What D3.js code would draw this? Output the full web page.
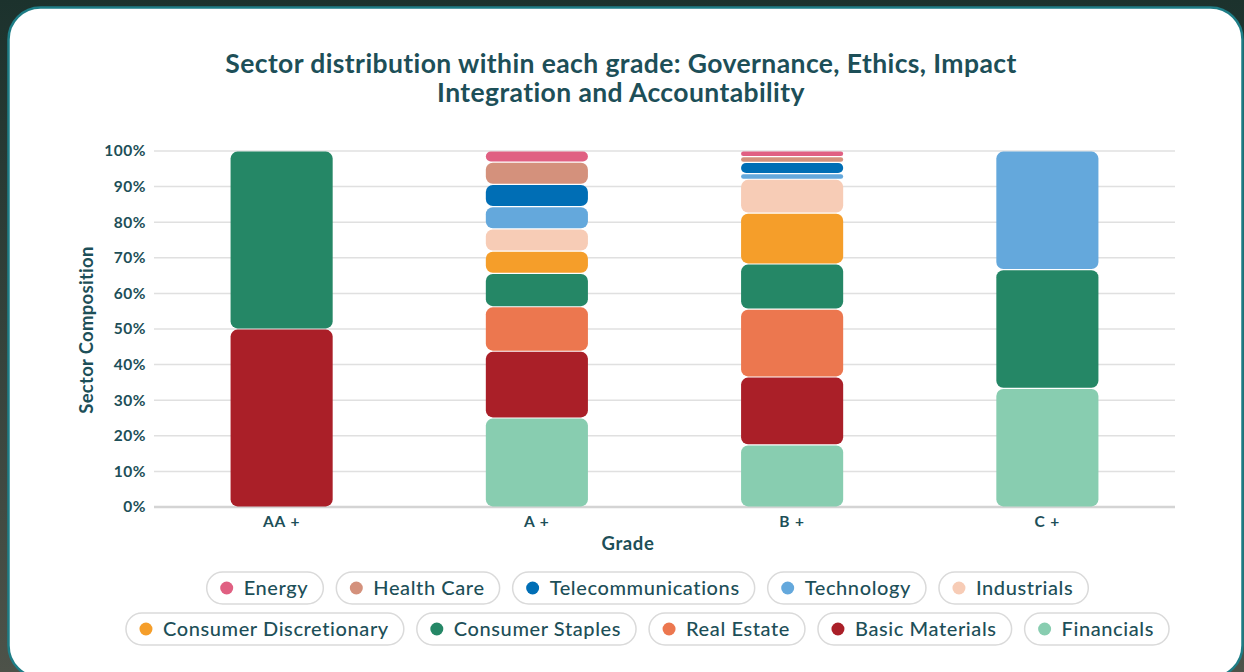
<!DOCTYPE html>
<html lang="en">
<head>
    <meta charset="UTF-8">
    <title>Sector distribution</title>
    <script src="https://cdn.jsdelivr.net/npm/d3@7"></script>
    <style>
        html, body { margin: 0; padding: 0; }
        body { width: 1244px; height: 672px; overflow: hidden; }
        svg { display: block; font-family: Lato, "Noto Sans", sans-serif; }
        .tick-label { fill: #1d4f58; font-weight: 700; font-family: Lato, "Noto Sans", sans-serif; }
    </style>
</head>
<body>
    <svg id="chart" width="1244" height="672"></svg>

    <script>
        // grades on the x axis
        const grades = ["AA +", "A +", "B +", "C +"];
        // legend order (top of stack first)
        const sectors = ["Energy", "Health Care", "Telecommunications", "Technology", "Industrials",
            "Consumer Discretionary", "Consumer Staples", "Real Estate", "Basic Materials", "Financials"];
        const sectorColors = ["#e06082", "#d4917c", "#006eb5", "#64a8dc", "#f7ccb6",
            "#f59e2a", "#258766", "#ec774f", "#aa1f28", "#88cdb0"];

        // share (%) of each sector within each grade
        const energy         = [0, 3.125, 1.59, 0];
        const healthCare     = [0, 6.25, 1.59, 0];
        const telecom        = [0, 6.25, 3.17, 0];
        const technology     = [0, 6.25, 1.59, 33.33];
        const industrials    = [0, 6.25, 9.52, 0];
        const consumerDisc   = [0, 6.25, 14.29, 0];
        const consumerStaple = [50, 9.375, 12.70, 33.33];
        const realEstate     = [0, 12.5, 19.05, 0];
        const basicMaterials = [50, 18.75, 19.05, 0];
        const financials     = [0, 25, 17.46, 33.34];

        const yTicks = [0, 10, 20, 30, 40, 50, 60, 70, 80, 90, 100];

        const seriesValues = [energy, healthCare, telecom, technology, industrials,
            consumerDisc, consumerStaple, realEstate, basicMaterials, financials];

        // table for d3.stack: one row per grade
        const rows = grades.map((g, i) => {
            const row = { grade: g };
            sectors.forEach((s, j) => { row[s] = seriesValues[j][i]; });
            return row;
        });

        const textColor = "#1d4f58";
        const svg = d3.select("#chart");

        // background + card
        const defs = svg.append("defs");
        const grad = defs.append("linearGradient").attr("id", "bg").attr("x1", 0).attr("y1", 0).attr("x2", 0).attr("y2", 1);
        grad.append("stop").attr("offset", "0%").attr("stop-color", "#1c322d");
        grad.append("stop").attr("offset", "100%").attr("stop-color", "#4d5249");
        svg.append("rect").attr("width", 1244).attr("height", 672).attr("fill", "url(#bg)");
        svg.append("rect")
            .attr("x", 8.5).attr("y", 7.5)
            .attr("width", 1234).attr("height", 670)
            .attr("rx", 32)
            .attr("fill", "white")
            .attr("stroke", "#1e7d86")
            .attr("stroke-width", 2.5);

        // title
        const title = svg.append("text")
            .attr("x", 621).attr("y", 73)
            .attr("text-anchor", "middle")
            .attr("fill", textColor)
            .style("font-size", "26.5px")
            .style("letter-spacing", "0.4px")
            .style("font-weight", "700");
        title.append("tspan").attr("x", 621).text("Sector distribution within each grade: Governance, Ethics, Impact");
        title.append("tspan").attr("x", 621).attr("dy", 29).text("Integration and Accountability");

        const plot = { left: 154, right: 1175, top: 151, bottom: 507 };

        const x = d3.scaleBand()
            .domain(grades)
            .range([plot.left, plot.right])
            .paddingInner(0.6)
            .paddingOuter(0.3);
        const y = d3.scaleLinear().domain([0, 100]).range([plot.bottom, plot.top]);

        // grid lines
        svg.append("g")
            .selectAll("line")
            .data(yTicks)
            .join("line")
            .attr("x1", plot.left).attr("x2", plot.right)
            .attr("y1", d => y(d)).attr("y2", d => y(d))
            .attr("stroke", d => d === 0 ? "#d4d4d4" : "#e0e0e0")
            .attr("stroke-width", d => d === 0 ? 2.5 : 1.5);

        // y axis
        const yAxis = svg.append("g")
            .attr("transform", `translate(${plot.left - 8},0)`)
            .call(d3.axisLeft(y).tickValues(yTicks).tickFormat(d => d + "%").tickSize(0).tickPadding(0));
        yAxis.attr("font-family", null).attr("font-size", null);
        yAxis.select(".domain").remove();
        yAxis.selectAll("text").attr("class", "tick-label")
            .style("font-size", "15.5px").style("letter-spacing", "0.5px").attr("dy", "0.32em");

        // x axis
        const xAxis = svg.append("g")
            .attr("transform", `translate(0,${plot.bottom + 9})`)
            .call(d3.axisBottom(x).tickSize(0).tickPadding(0));
        xAxis.attr("font-family", null).attr("font-size", null);
        xAxis.select(".domain").remove();
        xAxis.selectAll("text").attr("class", "tick-label")
            .style("font-size", "15.5px").style("letter-spacing", "0.9px");

        // axis titles
        svg.append("text")
            .attr("transform", "translate(93,330) rotate(-90)")
            .attr("text-anchor", "middle")
            .attr("fill", textColor)
            .style("font-size", "18.5px").style("font-weight", "700").style("letter-spacing", "0.3px")
            .text("Sector Composition");
        svg.append("text")
            .attr("x", 628).attr("y", 550)
            .attr("text-anchor", "middle")
            .attr("fill", textColor)
            .style("font-size", "18.5px").style("font-weight", "700").style("letter-spacing", "0.6px")
            .text("Grade");

        // stacked bars (bottom = Financials)
        const stackKeys = sectors.slice().reverse();
        const color = d3.scaleOrdinal().domain(sectors).range(sectorColors);
        const stacked = d3.stack().keys(stackKeys)(rows);

        svg.append("g")
            .selectAll("g")
            .data(stacked)
            .join("g")
            .attr("fill", d => color(d.key))
            .selectAll("rect")
            .data(d => d.filter(p => p[1] - p[0] > 0))
            .join("rect")
            .attr("x", d => x(d.data.grade))
            .attr("width", x.bandwidth())
            .attr("y", d => y(d[1]) + 0.6)
            .attr("height", d => Math.max(0, y(d[0]) - y(d[1]) - 1.2))
            .attr("rx", d => Math.min(7, (y(d[0]) - y(d[1]) - 1.2) / 2))
            .attr("ry", d => Math.min(7, (y(d[0]) - y(d[1]) - 1.2) / 2));

        // legend pills, two rows centred
        const legendRows = [sectors.slice(0, 5), sectors.slice(5)];
        const legendCenter = 647.5;
        const pillGap = 13;
        const pillH = 32;
        legendRows.forEach((names, r) => {
            const cy = 588 + r * 41;
            const g = svg.append("g");
            const items = names.map(name => {
                const item = g.append("g");
                const label = item.append("text")
                    .attr("fill", textColor)
                    .style("font-size", "20px")
                    .style("letter-spacing", "0.6px")
                    .style("font-weight", "500")
                    .attr("dy", "0.35em")
                    .text(name);
                const w = label.node().getComputedTextLength();
                return { item, label, w: w + 52, name };
            });
            const total = d3.sum(items, d => d.w) + pillGap * (items.length - 1);
            let cx = legendCenter - total / 2;
            items.forEach(d => {
                d.item.attr("transform", `translate(${cx},${cy})`);
                d.item.insert("rect", "text")
                    .attr("x", 0).attr("y", -pillH / 2)
                    .attr("width", d.w).attr("height", pillH)
                    .attr("rx", pillH / 2)
                    .attr("fill", "white")
                    .attr("stroke", "#dadada")
                    .attr("stroke-width", 1.5);
                d.item.append("circle")
                    .attr("cx", 20).attr("cy", 0).attr("r", 6.5)
                    .attr("fill", color(d.name));
                d.label.attr("x", 37);
                cx += d.w + pillGap;
            });
        });
    </script>
</body>
</html>
